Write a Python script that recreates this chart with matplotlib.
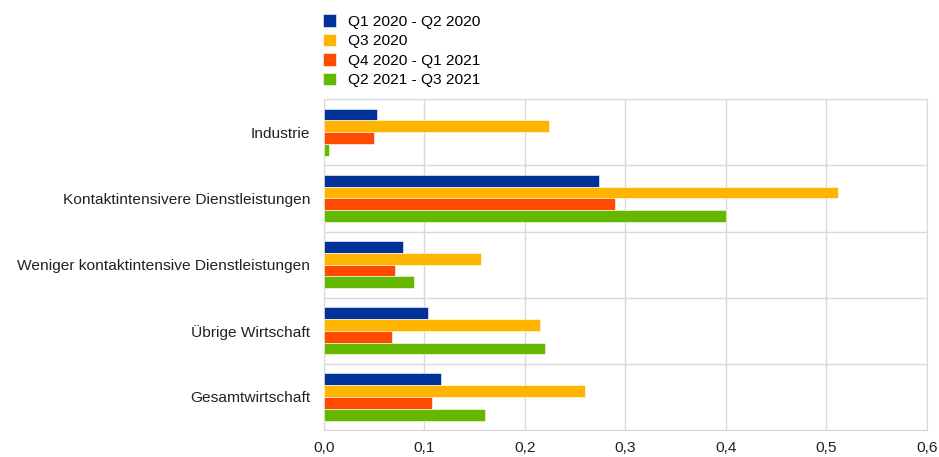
import numpy as np
import matplotlib.pyplot as plt
from matplotlib.ticker import FuncFormatter, MultipleLocator

plt.rcParams['font.family'] = ['Liberation Sans', 'DejaVu Sans']

# data
categories = ["Industrie", "Kontaktintensivere Dienstleistungen",
              "Weniger kontaktintensive Dienstleistungen", "Übrige Wirtschaft",
              "Gesamtwirtschaft"]
series_names = ["Q1 2020 - Q2 2020", "Q3 2020", "Q4 2020 - Q1 2021", "Q2 2021 - Q3 2021"]
q1_q2_2020 = [0.053, 0.274, 0.079, 0.104, 0.116]
q3_2020 = [0.224, 0.512, 0.156, 0.215, 0.260]
q4_2020_q1_2021 = [0.050, 0.290, 0.071, 0.068, 0.108]
q2_q3_2021 = [0.005, 0.400, 0.090, 0.220, 0.160]
colors = ["#003299", "#FFB400", "#FF4B00", "#65B800"]

values = [q1_q2_2020, q3_2020, q4_2020_q1_2021, q2_q3_2021]

fig = plt.figure(figsize=(9.39, 4.57), dpi=100)
ax = fig.add_axes([0.345, 0.059, 0.642, 0.724])

y = np.arange(len(categories))
bar_h = 0.178
for i, (name, vals, col) in enumerate(zip(series_names, values, colors)):
    offs = (i - 1.5) * bar_h
    ax.barh(y + offs, vals, height=bar_h, color=col, label=name,
            edgecolor='white', linewidth=0.4, zorder=3)

ax.set_ylim(len(categories) - 0.5, -0.5)
ax.set_xlim(0, 0.6)
ax.set_yticks(y)
ax.set_yticklabels(categories)
ax.set_yticks(np.arange(len(categories) + 1) - 0.5, minor=True)
ax.xaxis.set_major_locator(MultipleLocator(0.1))
ax.xaxis.set_major_formatter(FuncFormatter(lambda v, p: f"{v:.1f}".replace('.', ',')))

ax.grid(axis='x', which='major', color='#d9d9d9', linewidth=1, zorder=0)
ax.grid(axis='y', which='minor', color='#d9d9d9', linewidth=1, zorder=0)
ax.tick_params(axis='both', which='both', length=0, labelsize=11.15, colors='#222222')
ax.tick_params(axis='y', pad=10)
ax.tick_params(axis='x', pad=8)
for s in ax.spines.values():
    s.set_color('#d9d9d9')

fig.legend(loc='upper left', bbox_to_anchor=(0.337, 0.982), frameon=False,
           fontsize=11.15, handlelength=0.86, handleheight=0.86, handletextpad=0.8,
           labelspacing=0.31, borderaxespad=0)

fig.savefig("out.png", dpi=100)
